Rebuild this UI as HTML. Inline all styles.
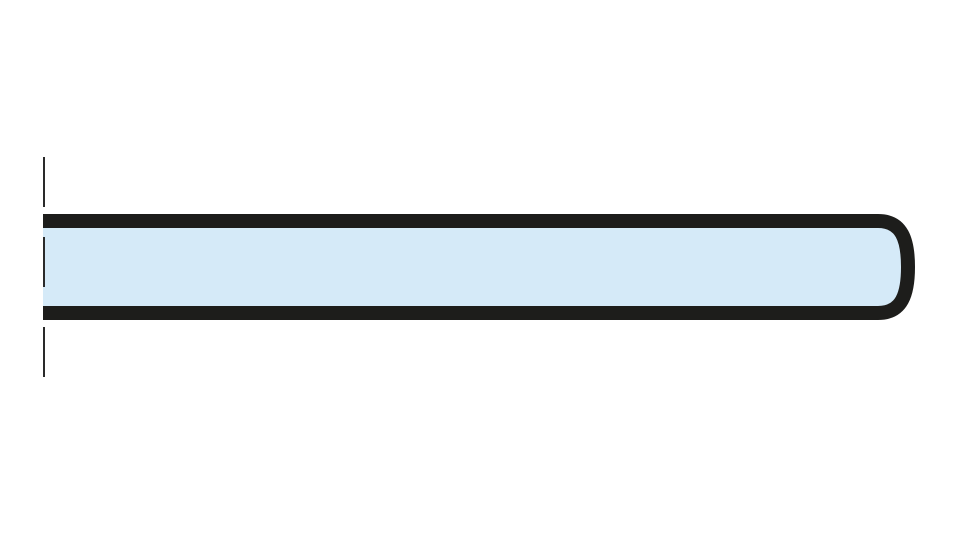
<!DOCTYPE html>
<html><head><style>html,body{margin:0;padding:0;background:#fff;}</style></head>
<body>
<svg width="960" height="535" viewBox="0 0 960 535" xmlns="http://www.w3.org/2000/svg">
<rect width="960" height="535" fill="#fff"/>
<path d="M43,221 H878 C902,221 908,240 908,267 C908,294 902,313 878,313 H43 Z" fill="#d5eaf8" stroke="none"/>
<path d="M43,221 H878 C902,221 908,240 908,267 C908,294 902,313 878,313 H43" fill="none" stroke="#1d1d1b" stroke-width="14"/>
<g stroke="#2a2a2a" stroke-width="2">
<line x1="44" y1="157" x2="44" y2="207"/>
<line x1="44" y1="237" x2="44" y2="287"/>
<line x1="44" y1="327" x2="44" y2="377"/>
</g>
</svg>
</body></html>
